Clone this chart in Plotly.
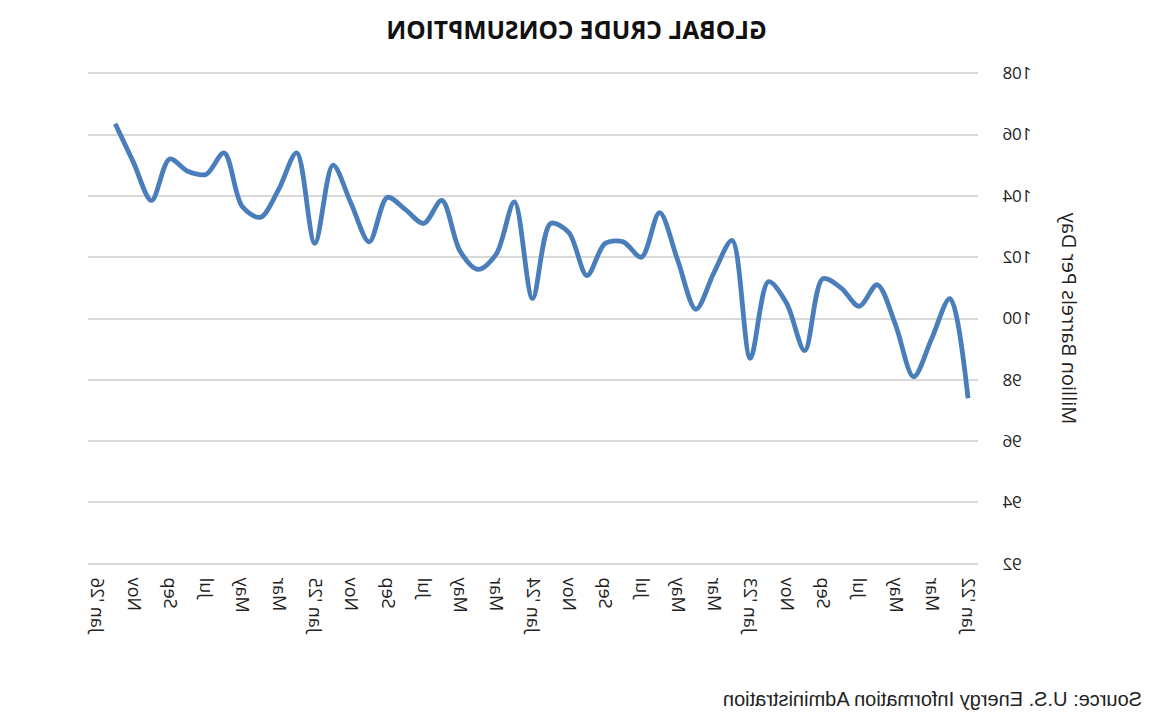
import plotly.graph_objects as go

# Monthly global crude consumption, Jan 2022 .. Dec 2025 (million barrels per day)
months = ["Jan '22", "Feb", "Mar", "Apr", "May", "Jun", "Jul", "Aug", "Sep", "Oct", "Nov", "Dec",
          "Jan '23", "Feb", "Mar", "Apr", "May", "Jun", "Jul", "Aug", "Sep", "Oct", "Nov", "Dec",
          "Jan '24", "Feb", "Mar", "Apr", "May", "Jun", "Jul", "Aug", "Sep", "Oct", "Nov", "Dec",
          "Jan '25", "Feb", "Mar", "Apr", "May", "Jun", "Jul", "Aug", "Sep", "Oct", "Nov", "Dec"]
consumption = [97.4, 100.65, 99.35, 98.1, 99.8, 101.1, 100.4, 101.0, 101.3, 98.95, 100.5, 101.2,
               98.7, 102.55, 101.5, 100.3, 101.9, 103.45, 102.0, 102.5, 102.45, 101.4, 102.8, 103.1,
               100.65, 103.8, 102.1, 101.6, 102.2, 103.85, 103.1, 103.55, 103.95, 102.5, 103.75, 105.0,
               102.45, 105.4, 104.2, 103.3, 103.65, 105.4, 104.7, 104.8, 105.2, 103.85, 105.1, 106.35]
tick_labels = ["Jan '22", "Mar", "May", "Jul", "Sep", "Nov",
               "Jan '23", "Mar", "May", "Jul", "Sep", "Nov",
               "Jan '24", "Mar", "May", "Jul", "Sep", "Nov",
               "Jan '25", "Mar", "May", "Jul", "Sep", "Nov", "Jan '26"]
y_ticks = [92, 94, 96, 98, 100, 102, 104, 106, 108]

x_idx = list(range(len(consumption)))
tick_pos = list(range(0, 2 * len(tick_labels), 2))

fig = go.Figure()
fig.add_trace(go.Scatter(
    x=x_idx, y=consumption, mode="lines",
    line=dict(color="#4A7EBB", width=4.8, shape="spline", smoothing=0.9),
    hoverinfo="skip", showlegend=False,
))

fig.update_layout(
    width=1153, height=712,
    margin=dict(l=175, r=88, t=64, b=139),
    paper_bgcolor="white", plot_bgcolor="white",
    title=dict(text="<b>GLOBAL CRUDE CONSUMPTION</b>", x=0.5, xanchor="center",
               y=0.957, yanchor="middle",
               font=dict(family="Open Sans, Arial, sans-serif", size=24.5, color="#111111")),
    font=dict(family="Open Sans, Arial, sans-serif", color="#222222"),
)
fig.update_xaxes(
    range=[-0.55, 48.5], tickmode="array", tickvals=tick_pos, ticktext=tick_labels,
    tickangle=-90, tickfont=dict(size=18, color="#222222"),
    showgrid=False, zeroline=False, showline=False,
    ticks="", ticklen=0,
)
fig.update_yaxes(
    range=[91.7, 108.3], tickmode="array", tickvals=y_ticks,
    tickfont=dict(size=17, color="#222222"),
    showgrid=True, gridcolor="#D9D9D9", gridwidth=1.6, zeroline=False, showline=False,
    ticks="outside", ticklen=20, tickcolor="rgba(0,0,0,0)",
    title=dict(text="Million Barrels Per Day", font=dict(size=20, color="#222222"), standoff=24),
)
fig.add_annotation(
    text="Source: U.S. Energy Information Administration", xref="paper", yref="paper",
    x=-166 / 890, y=-126 / 509, xanchor="left", yanchor="middle", showarrow=False,
    font=dict(family="Liberation Sans, Arial, sans-serif", size=20, color="#222222"),
)

# The reference image is a horizontal mirror of the chart; reproduce it with a CSS flip.
post = ("document.body.style.margin='0';"
        "var d=document.getElementById('{plot_id}');"
        "d.style.transform='scaleX(-1)';d.style.transformOrigin='50% 50%';")
fig.write_html("out.html", post_script=post, config={"displayModeBar": False})
